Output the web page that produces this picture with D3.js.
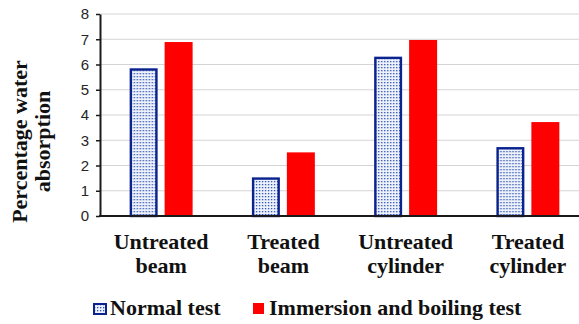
<!DOCTYPE html>
<html>
<head>
<meta charset="utf-8">
<script src="https://cdn.jsdelivr.net/npm/d3@7"></script>
<style>
  html, body { margin: 0; padding: 0; background: #fff; }
  svg { display: block; }
</style>
</head>
<body>
<svg id="chart" width="579" height="324"></svg>
<script>
// Water absorption results (%) per specimen type
const categories = [["Untreated", "beam"], ["Treated", "beam"], ["Untreated", "cylinder"], ["Treated", "cylinder"]];
const seriesNames = ["Normal test", "Immersion and boiling test"];
const normalTest = [5.85, 1.53, 6.31, 2.73];
const boilingTest = [6.89, 2.52, 6.97, 3.72];
const yTicks = [0, 1, 2, 3, 4, 5, 6, 7, 8];

const svg = d3.select("#chart");
const serif = "'Liberation Serif', 'Times New Roman', serif";
const sans = "'Liberation Sans', Arial, sans-serif";
const labelSize = 22;

const plot = { left: 100, right: 589, top: 14, bottom: 216 };
const catKeys = categories.map(c => c.join(" "));

// Dotted fill for the "Normal test" bars
const defs = svg.append("defs");
const pat = defs.append("pattern")
  .attr("id", "dots")
  .attr("patternUnits", "userSpaceOnUse")
  .attr("width", 3).attr("height", 3);
pat.append("rect").attr("width", 3).attr("height", 3).attr("fill", "#eef2fb");
pat.append("rect").attr("x", 1).attr("y", 1).attr("width", 1.3).attr("height", 1.3).attr("fill", "#2a4fb0");

const x = d3.scaleBand()
  .domain(catKeys)
  .range([plot.left, plot.right])
  .paddingInner(0.485)
  .paddingOuter(0.2425);

const xInner = d3.scaleBand()
  .domain(seriesNames)
  .range([0, x.bandwidth()])
  .paddingInner(0.2);

const y = d3.scaleLinear().domain([0, 8]).range([plot.bottom, plot.top]);

// Horizontal gridlines
svg.append("g")
  .selectAll("line")
  .data(yTicks.filter(t => t > 0))
  .join("line")
  .attr("x1", plot.left).attr("x2", plot.right)
  .attr("y1", d => y(d)).attr("y2", d => y(d))
  .attr("stroke", "#d4d4d4").attr("stroke-width", 1);

// Y axis
const yAxis = svg.append("g")
  .attr("transform", `translate(${plot.left},0)`)
  .call(d3.axisLeft(y).tickValues(yTicks).tickSize(4).tickPadding(7).tickSizeOuter(0));
yAxis.select(".domain").attr("stroke", "#1a1a1a").attr("stroke-width", 2);
yAxis.selectAll(".tick line").attr("stroke", "#1a1a1a").attr("stroke-width", 1.5);
yAxis.selectAll(".tick text")
  .attr("font-family", sans).attr("font-size", 15).attr("fill", "#262626");

// Bars
const rows = catKeys.map((k, i) => ({ key: k, values: [normalTest[i], boilingTest[i]] }));
const groups = svg.append("g")
  .selectAll("g")
  .data(rows)
  .join("g")
  .attr("transform", d => `translate(${x(d.key)},0)`);

groups.selectAll("rect")
  .data(d => d.values.map((v, j) => ({ s: seriesNames[j], v, j })))
  .join("rect")
  .attr("x", d => xInner(d.s) + (d.j === 0 ? 1.2 : 0))
  .attr("y", d => y(d.v) + (d.j === 0 ? 1.2 : 0))
  .attr("width", d => xInner.bandwidth() - (d.j === 0 ? 2.4 : 0))
  .attr("height", d => y(0) - y(d.v) - (d.j === 0 ? 1.2 : 0))
  .attr("fill", d => d.j === 0 ? "url(#dots)" : "#ff0000")
  .attr("stroke", d => d.j === 0 ? "#0a238f" : "none")
  .attr("stroke-width", 2.4);

// X axis baseline
svg.append("line")
  .attr("x1", plot.left - 1).attr("x2", plot.right)
  .attr("y1", y(0)).attr("y2", y(0))
  .attr("stroke", "#1a1a1a").attr("stroke-width", 2);

// Category labels (two lines each)
const catLabels = svg.append("g")
  .selectAll("text")
  .data(categories)
  .join("text")
  .attr("x", (d, i) => x(catKeys[i]) + x.bandwidth() / 2)
  .attr("y", 249)
  .attr("text-anchor", "middle")
  .attr("font-family", serif).attr("font-weight", "bold").attr("font-size", labelSize)
  .attr("fill", "#111");
catLabels.selectAll("tspan")
  .data(d => d)
  .join("tspan")
  .attr("x", function () { return d3.select(this.parentNode).attr("x"); })
  .attr("dy", (d, i) => i === 0 ? 0 : 24)
  .text(d => d);

// Y axis title
const yTitle = svg.append("text")
  .attr("transform", "translate(27,141.5) rotate(-90)")
  .attr("text-anchor", "middle")
  .attr("font-family", serif).attr("font-weight", "bold").attr("font-size", labelSize)
  .attr("fill", "#111");
yTitle.append("tspan").attr("x", 0).attr("dy", 0).text("Percentage water");
yTitle.append("tspan").attr("x", 0).attr("dy", 23).text("absorption");

// Legend
const legend = svg.append("g");
legend.append("rect")
  .attr("x", 94).attr("y", 304).attr("width", 12).attr("height", 10)
  .attr("fill", "url(#dots)").attr("stroke", "#0a238f").attr("stroke-width", 2);
legend.append("text")
  .attr("x", 110).attr("y", 315)
  .attr("font-family", serif).attr("font-weight", "bold").attr("font-size", labelSize)
  .attr("fill", "#111").text(seriesNames[0]);
legend.append("rect")
  .attr("x", 253).attr("y", 303).attr("width", 11).attr("height", 11)
  .attr("fill", "#ff0000");
legend.append("text")
  .attr("x", 269).attr("y", 315)
  .attr("font-family", serif).attr("font-weight", "bold").attr("font-size", labelSize)
  .attr("fill", "#111").text(seriesNames[1]);
</script>
</body>
</html>
